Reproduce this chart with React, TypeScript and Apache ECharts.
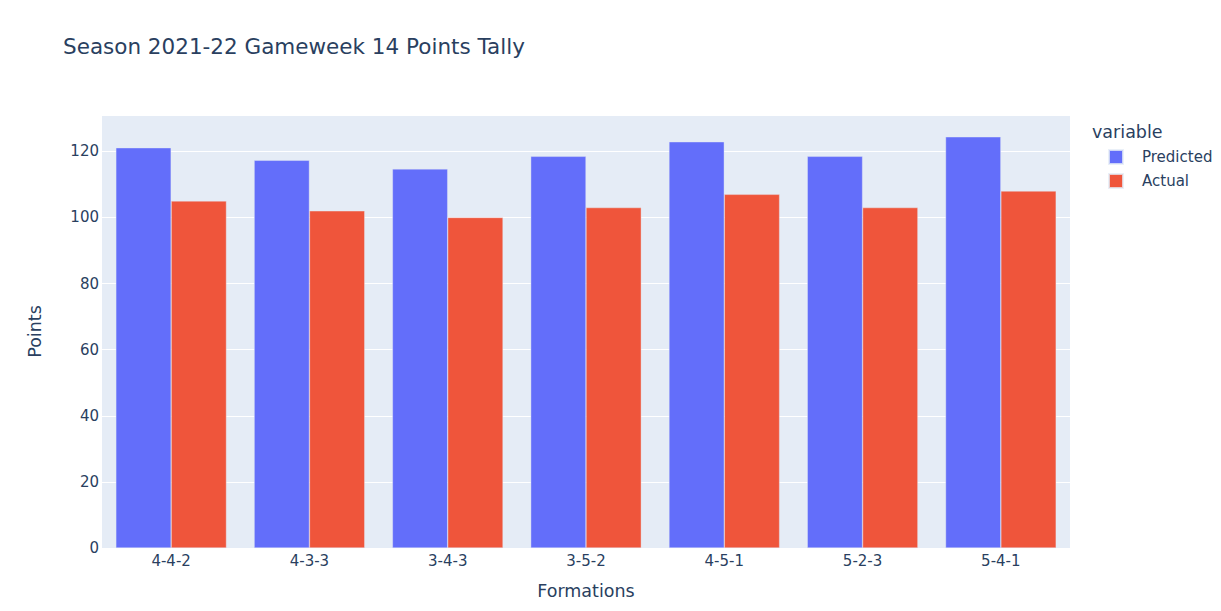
import React, { useEffect, useRef } from "react";
import * as echarts from "echarts";

const categories = ["4-4-2", "4-3-3", "3-4-3", "3-5-2", "4-5-1", "5-2-3", "5-4-1"];
const predicted = [121.1, 117.3, 114.7, 118.5, 122.9, 118.5, 124.4];
const actual = [105, 102, 100, 103, 107, 103, 108];
const yTicks = [0, 20, 40, 60, 80, 100, 120];

const FONT = '"DejaVu Sans", Verdana, sans-serif';
const TXT = "#2a3f5f";

export default function App() {
  const ref = useRef<HTMLDivElement>(null);
  useEffect(() => {
    if (!ref.current) return;
    const chart = echarts.init(ref.current, undefined, { renderer: "svg" });
    chart.setOption({
      animation: false,
      textStyle: { fontFamily: FONT },
      title: {
        text: "Season 2021-22 Gameweek 14 Points Tally",
        left: 58,
        top: 30,
        textStyle: { fontFamily: FONT, fontSize: 21.5, fontWeight: "normal", color: TXT },
      },
      legend: {
        orient: "vertical",
        left: 1103,
        top: 144,
        icon: "rect",
        itemWidth: 14,
        itemHeight: 14,
        itemGap: 8,
        data: ["Predicted", "Actual"],
        textStyle: { fontFamily: FONT, fontSize: 15, color: TXT, padding: [0, 0, 0, 14] },
      },
      grid: { left: 102, right: 151, top: 115, bottom: 63, containLabel: false },
      xAxis: {
        type: "category",
        data: categories,
        name: "Formations",
        nameLocation: "middle",
        nameGap: 34,
        nameTextStyle: { fontFamily: FONT, fontSize: 17.5, color: TXT },
        axisLine: { show: false },
        axisTick: { show: false },
        axisLabel: { fontFamily: FONT, fontSize: 15, color: TXT, margin: 5 },
        splitLine: { show: false },
      },
      yAxis: {
        type: "value",
        min: 0,
        max: 131,
        interval: 20,
        name: "Points",
        nameLocation: "middle",
        nameGap: 58,
        nameTextStyle: { fontFamily: FONT, fontSize: 17.5, color: TXT },
        axisLine: { show: false },
        axisTick: { show: false },
        axisLabel: {
          fontFamily: FONT,
          fontSize: 15,
          color: TXT,
          margin: 3,
          formatter: (v: number) => (yTicks.includes(v) ? String(v) : ""),
        },
        splitLine: { lineStyle: { color: "#ffffff", width: 1 } },
      },
      series: [
        {
          name: "Predicted",
          type: "bar",
          data: predicted,
          barGap: "0%",
          barCategoryGap: "20%",
          itemStyle: { color: "#636efa", borderColor: "rgba(229,236,246,0.8)", borderWidth: 0.5 },
        },
        {
          name: "Actual",
          type: "bar",
          data: actual,
          barGap: "0%",
          barCategoryGap: "20%",
          itemStyle: { color: "#EF553B", borderColor: "rgba(229,236,246,0.8)", borderWidth: 0.5 },
        },
      ],
      backgroundColor: "#ffffff",
      graphic: [
        {
          type: "text",
          left: 1092,
          top: 123,
          style: { text: "variable", fontFamily: FONT, fontSize: 17.5, fill: TXT },
        },
        {
          type: "rect",
          z: -10,
          silent: true,
          shape: { x: 102, y: 115, width: 968, height: 433 },
          style: { fill: "#E5ECF6" },
        },
      ],
    });
    return () => chart.dispose();
  }, []);
  return (
    <div
      ref={ref}
      style={{ width: 1221, height: 611, position: "absolute", left: 0, top: 0 }}
    />
  );
}
